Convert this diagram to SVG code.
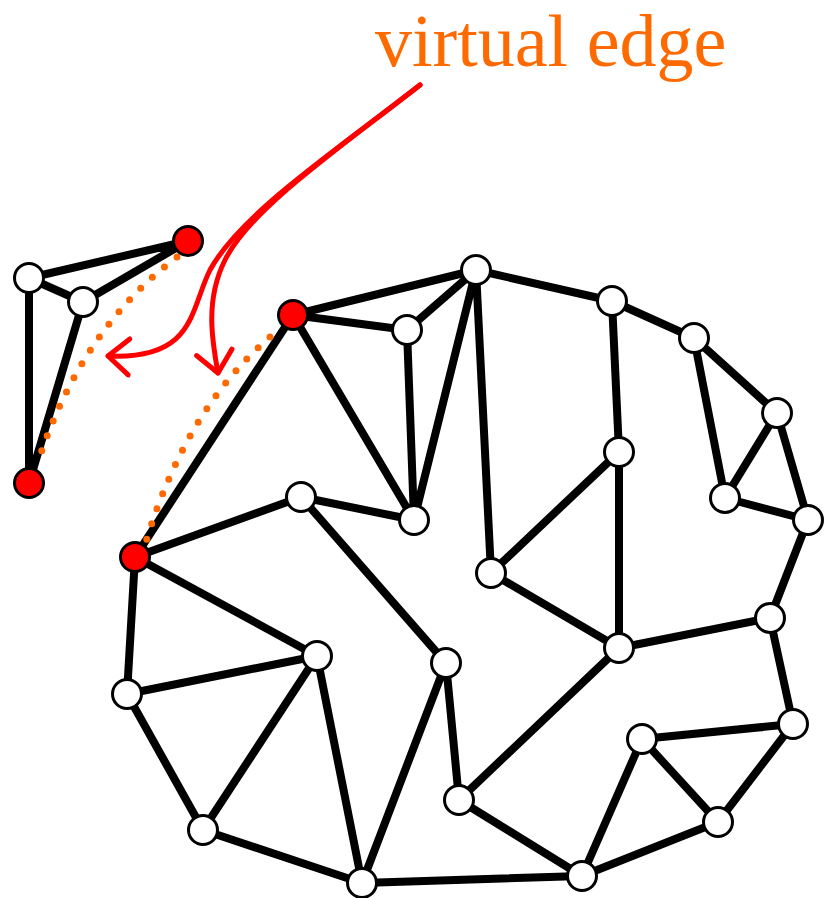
<svg xmlns="http://www.w3.org/2000/svg" width="825" height="898" viewBox="0 0 825 898">
<style>
.e{stroke:#000;stroke-width:8;stroke-linecap:round;fill:none}
.v{stroke:#ff6a00;stroke-width:7;stroke-linecap:round;stroke-dasharray:0 16;fill:none}
.a{stroke:#ff0000;stroke-width:5;fill:none;stroke-linecap:round;marker-end:url(#ah)}
.n circle{stroke:#000;stroke-width:3;fill:#fff}
.n.r circle{fill:#ff0000}
.t{font-family:"Liberation Serif","Times New Roman",serif;font-size:74px;fill:#ff6a00}
</style>
<defs>
<marker id="ah" markerUnits="userSpaceOnUse" markerWidth="60" markerHeight="60" viewBox="-30 -30 60 60" refX="0" refY="0" orient="auto" overflow="visible">
<path d="M -21 -18 L 0 0 L -21 18" stroke="#ff0000" stroke-width="5" fill="none" stroke-linecap="round" stroke-linejoin="round"/>
</marker>
</defs>
<rect width="825" height="898" fill="#fff"/>
<text class="t" x="375" y="66">virtual edge</text>
<g id="edges">
<path class="e" d="M29 278L188 241M29 278L83 302M83 302L188 241M29 278L29 483M83 302L29 483"/>
<path class="e" d="M293 315L476 270M293 315L407 330M293 315L414 520M293 315L135 557
M407 330L476 270M407 330L414 520
M476 270L414 520M476 270L612 301M476 270L491 573
M612 301L694 338M612 301L619 452
M694 338L777 413M694 338L725 498
M777 413L725 498M777 413L808 520
M725 498L808 520M808 520L770 618
M619 452L491 573M619 452L619 648M491 573L619 648
M619 648L770 618M619 648L459 800
M770 618L793 724M793 724L642 739M793 724L718 822
M642 739L718 822M642 739L582 876M718 822L582 876
M582 876L459 800M582 876L362 883
M459 800L446 663M446 663L362 883M446 663L301 497
M301 497L414 520M301 497L135 557
M135 557L317 656M135 557L127 694
M317 656L127 694M317 656L203 830M317 656L362 883
M127 694L203 830M203 830L362 883"/>
<path class="v" d="M177 257Q80 330 37 465"/>
<path class="v" d="M270 337Q185 410 145 545"/>
</g>
<g id="n-a" class="n"><circle cx="29" cy="278" r="14.5"/></g>
<g id="n-b" class="n"><circle cx="83" cy="302" r="14.5"/></g>
<g id="n-r1" class="n r"><circle cx="188" cy="241" r="14.5"/></g>
<g id="n-r2" class="n r"><circle cx="29" cy="483" r="14.5"/></g>
<g id="n-r3" class="n r"><circle cx="293" cy="315" r="14.5"/></g>
<g id="n-r4" class="n r"><circle cx="135" cy="557" r="14.5"/></g>
<g id="n-p1" class="n"><circle cx="407" cy="330" r="14.5"/></g>
<g id="n-p2" class="n"><circle cx="476" cy="270" r="14.5"/></g>
<g id="n-p3" class="n"><circle cx="612" cy="301" r="14.5"/></g>
<g id="n-p4" class="n"><circle cx="694" cy="338" r="14.5"/></g>
<g id="n-p5" class="n"><circle cx="777" cy="413" r="14.5"/></g>
<g id="n-p6" class="n"><circle cx="725" cy="498" r="14.5"/></g>
<g id="n-p7" class="n"><circle cx="808" cy="520" r="14.5"/></g>
<g id="n-p8" class="n"><circle cx="619" cy="452" r="14.5"/></g>
<g id="n-p9" class="n"><circle cx="491" cy="573" r="14.5"/></g>
<g id="n-p10" class="n"><circle cx="619" cy="648" r="14.5"/></g>
<g id="n-p11" class="n"><circle cx="770" cy="618" r="14.5"/></g>
<g id="n-p12" class="n"><circle cx="793" cy="724" r="14.5"/></g>
<g id="n-p13" class="n"><circle cx="642" cy="739" r="14.5"/></g>
<g id="n-p14" class="n"><circle cx="718" cy="822" r="14.5"/></g>
<g id="n-p15" class="n"><circle cx="582" cy="876" r="14.5"/></g>
<g id="n-p16" class="n"><circle cx="459" cy="800" r="14.5"/></g>
<g id="n-p17" class="n"><circle cx="446" cy="663" r="14.5"/></g>
<g id="n-p18" class="n"><circle cx="362" cy="883" r="14.5"/></g>
<g id="n-p19" class="n"><circle cx="203" cy="830" r="14.5"/></g>
<g id="n-p20" class="n"><circle cx="127" cy="694" r="14.5"/></g>
<g id="n-p21" class="n"><circle cx="317" cy="656" r="14.5"/></g>
<g id="n-p22" class="n"><circle cx="301" cy="497" r="14.5"/></g>
<g id="n-p23" class="n"><circle cx="414" cy="520" r="14.5"/></g>
<g id="arrows">
<path class="a" d="M420 85C330 155 240 215 210 270C190 310 195 360 108 356"/>
<path class="a" d="M420 85C330 155 250 210 225 260C205 300 212 340 218 373"/>
</g>
</svg>
